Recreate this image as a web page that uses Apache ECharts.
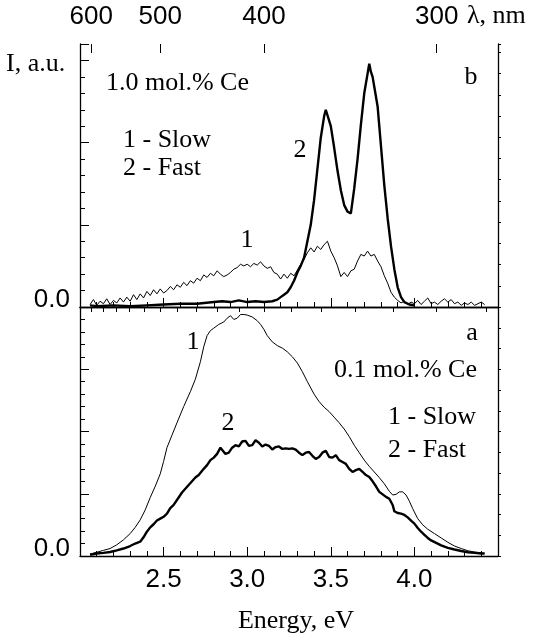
<!DOCTYPE html>
<html>
<head>
<meta charset="utf-8">
<script src="https://cdn.jsdelivr.net/npm/echarts@6/dist/echarts.min.js"></script>
</head>
<body style="margin:0;background:#fff">
<div id="main" style="width:541px;height:633px"></div>
<script>
// energy (eV) vs intensity, panel b = 1.0 mol.% Ce, panel a = 0.1 mol.% Ce
var bSlow = [
  [2.06,0.15],[2.08,0.45],[2.10,0.1],[2.12,0.35],[2.14,0.2],[2.16,0.5],[2.18,0.15],[2.20,0.4],
  [2.22,0.25],[2.24,0.55],[2.26,0.3],[2.28,0.6],[2.30,0.35],[2.32,0.75],[2.34,0.45],[2.36,0.8],
  [2.38,0.55],[2.40,0.95],[2.42,0.7],[2.44,1.05],[2.46,0.8],[2.48,1.1],[2.50,0.85],[2.52,1.0],
  [2.54,1.25],[2.56,1.05],[2.58,1.35],[2.60,1.2],[2.62,1.5],[2.64,1.3],[2.66,1.6],[2.68,1.45],
  [2.70,1.75],[2.72,1.6],[2.74,1.95],[2.76,1.8],[2.78,2.05],[2.80,1.9],[2.82,2.2],[2.84,2.0],
  [2.86,1.85],[2.88,1.95],[2.90,2.1],[2.92,2.3],[2.94,2.4],[2.96,2.6],[2.98,2.5],[3.00,2.6],
  [3.02,2.45],[3.04,2.65],[3.06,2.55],[3.08,2.75],[3.10,2.5],[3.12,2.35],[3.14,2.45],[3.16,2.1],
  [3.18,2.0],[3.20,1.7],[3.22,2.0],[3.24,1.75],[3.26,2.05],[3.28,1.9],[3.30,2.25],[3.32,2.6],
  [3.34,2.9],[3.36,3.3],[3.38,3.6],[3.40,3.35],[3.42,3.7],[3.44,3.5],[3.46,3.8],[3.48,4.0],
  [3.50,3.4],[3.52,3.0],[3.54,2.5],[3.56,1.85],[3.58,2.1],[3.60,1.85],[3.62,2.2],[3.64,2.3],
  [3.66,2.8],[3.68,3.2],[3.70,3.1],[3.72,3.4],[3.74,3.1],[3.76,3.2],[3.78,2.8],[3.80,2.45],
  [3.82,1.9],[3.84,1.45],[3.86,0.9],[3.88,0.6],[3.90,0.4],[3.92,0.25],[3.94,0.35],[3.96,0.15],
  [3.98,0.3],[4.00,0.2],[4.02,0.4],[4.04,0.15],[4.06,0.35],[4.08,0.55],[4.10,0.2],[4.12,0.3],
  [4.14,0.15],[4.16,0.35],[4.18,0.5],[4.20,0.3],[4.22,0.45],[4.24,0.2],[4.26,0.3],[4.28,0.1],
  [4.30,0.25],[4.32,0.15],[4.34,0.3],[4.36,0.1],[4.38,0.2],[4.40,0.3],[4.42,0.15]
];
var bFast = [
  [2.06,0.1],[2.10,0.05],[2.20,0.1],[2.30,0.05],[2.40,0.1],[2.50,0.15],[2.60,0.2],[2.70,0.2],
  [2.80,0.3],[2.85,0.35],[2.90,0.3],[2.95,0.4],[3.00,0.3],[3.05,0.35],[3.10,0.3],[3.15,0.35],
  [3.18,0.45],[3.20,0.6],[3.22,0.75],[3.24,0.9],[3.26,1.2],[3.28,1.6],[3.30,2.1],[3.32,2.5],
  [3.34,3.0],[3.36,4.0],[3.38,5.0],[3.40,6.5],[3.42,8.4],[3.44,10.3],[3.46,11.6],[3.47,12.0],
  [3.48,11.9],[3.50,11.0],[3.52,9.7],[3.54,8.3],[3.56,7.1],[3.58,6.2],[3.60,5.8],[3.61,5.9],
  [3.62,5.7],[3.64,7.2],[3.66,9.0],[3.68,11.1],[3.70,13.0],[3.72,14.2],[3.73,14.8],[3.74,14.3],
  [3.75,14.0],[3.76,13.4],[3.78,12.2],[3.80,9.8],[3.82,7.4],[3.84,5.4],[3.86,3.7],[3.88,2.3],
  [3.90,1.2],[3.92,0.6],[3.94,0.3],[3.97,0.15],[4.00,0.1]
];
var aSlow = [
  [2.06,0.15],[2.10,0.3],[2.14,0.45],[2.18,0.6],[2.22,0.9],[2.26,1.3],[2.30,1.8],[2.33,2.3],
  [2.36,2.9],[2.39,3.7],[2.42,4.7],[2.45,5.6],[2.48,6.6],[2.50,7.6],[2.52,8.7],[2.55,9.7],
  [2.58,10.7],[2.62,12.0],[2.66,13.2],[2.69,14.2],[2.72,15.6],[2.74,16.8],[2.76,17.7],[2.78,18.1],
  [2.80,18.3],[2.83,18.6],[2.86,18.8],[2.88,19.1],[2.90,19.3],[2.92,19.0],[2.94,19.1],[2.96,19.4],
  [2.98,19.4],[3.00,19.35],[3.03,19.2],[3.06,18.9],[3.08,18.6],[3.10,18.2],[3.12,17.7],[3.15,17.2],
  [3.18,16.9],[3.21,16.7],[3.24,16.4],[3.27,16.0],[3.30,15.5],[3.33,14.8],[3.36,14.0],[3.40,13.0],
  [3.43,12.4],[3.46,11.95],[3.49,11.6],[3.52,11.15],[3.55,10.7],[3.58,10.2],[3.61,9.6],[3.64,8.9],
  [3.67,8.3],[3.70,7.7],[3.73,7.2],[3.76,6.75],[3.79,6.3],[3.82,5.8],[3.85,5.2],[3.87,4.9],
  [3.89,4.95],[3.91,5.15],[3.93,5.15],[3.95,4.9],[3.97,4.4],[3.99,3.8],[4.02,3.0],[4.05,2.5],
  [4.08,2.15],[4.12,1.8],[4.16,1.45],[4.20,1.1],[4.24,0.8],[4.28,0.6],[4.32,0.42],[4.36,0.32],
  [4.40,0.26],[4.42,0.24]
];
var aFast = [
  [2.06,0.1],[2.10,0.2],[2.14,0.25],[2.18,0.32],[2.22,0.45],[2.26,0.6],[2.30,0.8],[2.33,1.0],
  [2.36,1.15],[2.38,1.5],[2.40,1.95],[2.42,2.3],[2.44,2.55],[2.46,2.85],[2.48,3.0],[2.50,3.15],
  [2.52,3.4],[2.54,3.85],[2.56,4.1],[2.57,4.0],[2.59,4.7],[2.61,5.1],[2.63,5.4],[2.65,5.7],
  [2.67,6.0],[2.69,6.3],[2.71,6.5],[2.72,6.4],[2.74,7.0],[2.76,7.3],[2.78,7.7],[2.80,7.9],
  [2.82,8.2],[2.84,8.7],[2.85,8.75],[2.87,8.2],[2.89,8.3],[2.91,8.7],[2.93,8.9],[2.95,8.8],
  [2.97,9.2],[2.99,9.25],[3.01,8.85],[3.03,8.9],[3.05,9.3],[3.07,9.1],[3.09,8.8],[3.11,8.95],
  [3.13,8.85],[3.15,8.55],[3.17,8.75],[3.19,8.8],[3.21,8.6],[3.23,8.65],[3.25,8.6],[3.27,8.65],
  [3.29,8.55],[3.31,8.3],[3.33,8.1],[3.35,8.3],[3.37,8.35],[3.39,8.05],[3.41,7.8],[3.43,7.95],
  [3.45,8.3],[3.47,8.45],[3.49,7.95],[3.51,7.9],[3.53,8.1],[3.55,7.7],[3.57,7.55],[3.59,7.4],
  [3.61,7.0],[3.63,6.75],[3.65,6.9],[3.67,7.0],[3.69,6.75],[3.71,6.5],[3.73,6.35],[3.75,6.0],
  [3.77,5.6],[3.79,5.15],[3.81,4.95],[3.83,4.75],[3.85,4.6],[3.87,4.1],[3.88,3.6],[3.90,3.45],
  [3.92,3.4],[3.94,3.3],[3.96,3.1],[3.98,2.85],[4.00,2.6],[4.02,2.25],[4.04,1.95],[4.06,1.7],
  [4.08,1.45],[4.10,1.25],[4.13,1.05],[4.16,0.85],[4.20,0.65],[4.24,0.52],[4.28,0.4],[4.32,0.3],
  [4.36,0.25],[4.40,0.2],[4.42,0.19]
];
// wavelength axis on top (nm)
var nmTicks = [600,580,560,540,520,500,480,460,440,420,400,380,360,340,320,300,280];
var nmLabels = [600,500,400,300];
var eLabels = [2.5,3.0,3.5,4.0];

var HC = 1240;
var SANS = '"Liberation Sans", Arial, sans-serif';
var SERIF = '"Liberation Serif", "Times New Roman", serif';
var ink = '#000';

var chart = echarts.init(document.getElementById('main'));

function txt(s, x, y, align) {
  return {
    type: 'text', x: x, y: y,
    style: { text: s, font: '26px ' + SERIF, fill: ink, align: align || 'left', verticalAlign: 'middle' }
  };
}

var lineAx = { show: true, lineStyle: { color: ink, width: 1.3 } };
// "0.0" sits a little above the zero line
var zeroLabel = { margin: 10, color: ink, fontSize: 26, fontFamily: SANS,
  verticalAlign: 'bottom', lineHeight: 14,
  formatter: function (v) { return v === 0 ? '0.0' : ''; } };

option = {
  animation: false,
  grid: [
    { left: 80, right: 43, top: 44, height: 263 },
    { left: 80, right: 43, top: 307, height: 249 }
  ],
  xAxis: [
    { // panel b, bottom edge (divider)
      gridIndex: 0, type: 'value', position: 'bottom', min: 2, max: 4.5, interval: 0.5,
      axisLine: lineAx,
      axisTick: { inside: true, length: 9, lineStyle: { color: ink } },
      minorTick: { show: true, splitNumber: 5, length: 5, lineStyle: { color: ink } },
      axisLabel: { show: false }, splitLine: { show: false }
    },
    { // panel b, top edge, 20 nm ticks
      gridIndex: 0, type: 'value', position: 'top', min: 2, max: 4.5,
      axisLine: lineAx,
      axisTick: { inside: true, length: 5, lineStyle: { color: ink },
        customValues: nmTicks.map(function (n) { return HC / n; }) },
      axisLabel: { show: false }, splitLine: { show: false }
    },
    { // panel b, top edge, labelled 100 nm ticks
      gridIndex: 0, type: 'value', position: 'top', min: 2, max: 4.5,
      axisLine: { show: false },
      axisTick: { inside: true, length: 9, lineStyle: { color: ink },
        customValues: nmLabels.map(function (n) { return HC / n; }) },
      axisLabel: { margin: 14, color: ink, fontSize: 26, fontFamily: SANS,
        customValues: nmLabels.map(function (n) { return HC / n; }),
        formatter: function (v) { return String(Math.round(HC / v)); } },
      splitLine: { show: false }
    },
    { // panel a, energy axis
      gridIndex: 1, type: 'value', position: 'bottom', min: 2, max: 4.5, interval: 0.5,
      axisLine: lineAx,
      axisTick: { inside: true, length: 9, lineStyle: { color: ink } },
      minorTick: { show: true, splitNumber: 5, length: 5, lineStyle: { color: ink } },
      axisLabel: { margin: 11, color: ink, fontSize: 26, fontFamily: SANS,
        customValues: eLabels,
        formatter: function (v) { return v.toFixed(1); } },
      splitLine: { show: false }
    }
  ],
  yAxis: [
    {
      gridIndex: 0, type: 'value', position: 'left', min: 0, max: 16, interval: 5,
      axisLine: lineAx,
      axisTick: { inside: true, length: 9, lineStyle: { color: ink } },
      minorTick: { show: true, splitNumber: 5, length: 5, lineStyle: { color: ink } },
      axisLabel: zeroLabel,
      splitLine: { show: false }
    },
    {
      gridIndex: 0, type: 'value', position: 'right', min: 0, max: 12.4, interval: 1,
      axisLine: lineAx,
      axisTick: { inside: false, length: 3, lineStyle: { color: ink } },
      axisLabel: { show: false }, splitLine: { show: false }
    },
    {
      gridIndex: 1, type: 'value', position: 'left', min: 0, max: 20, interval: 5,
      axisLine: lineAx,
      axisTick: { inside: true, length: 9, lineStyle: { color: ink } },
      minorTick: { show: true, splitNumber: 5, length: 5, lineStyle: { color: ink } },
      axisLabel: zeroLabel,
      splitLine: { show: false }
    },
    {
      gridIndex: 1, type: 'value', position: 'right', min: 0, max: 12, interval: 1,
      axisLine: lineAx,
      axisTick: { inside: false, length: 3, lineStyle: { color: ink } },
      axisLabel: { show: false }, splitLine: { show: false }
    }
  ],
  series: [
    { name: '1 - Slow (b)', type: 'line', xAxisIndex: 0, yAxisIndex: 0, data: bSlow,
      showSymbol: false, lineStyle: { color: ink, width: 1 } },
    { name: '2 - Fast (b)', type: 'line', xAxisIndex: 0, yAxisIndex: 0, data: bFast,
      showSymbol: false, lineStyle: { color: ink, width: 2.4 } },
    { name: '1 - Slow (a)', type: 'line', xAxisIndex: 3, yAxisIndex: 2, data: aSlow,
      showSymbol: false, lineStyle: { color: ink, width: 1 } },
    { name: '2 - Fast (a)', type: 'line', xAxisIndex: 3, yAxisIndex: 2, data: aFast,
      showSymbol: false, lineStyle: { color: ink, width: 2.4 } }
  ],
  graphic: [
    txt('I, a.u.', 6, 64),
    txt('λ, nm', 467, 16),
    txt('1.0 mol.% Ce', 106, 83),
    txt('1 - Slow', 123, 140),
    txt('2 - Fast', 123, 168),
    txt('b', 471, 77, 'center'),
    txt('2', 300, 150, 'center'),
    txt('1', 247, 240, 'center'),
    txt('a', 472, 333, 'center'),
    txt('0.1 mol.% Ce', 477, 370, 'right'),
    txt('1', 193, 342, 'center'),
    txt('1 - Slow', 388, 417),
    txt('2 - Fast', 388, 450),
    txt('2', 228, 423, 'center'),
    txt('Energy, eV', 296, 621, 'center')
  ]
};
chart.setOption(option);
</script>
</body>
</html>
